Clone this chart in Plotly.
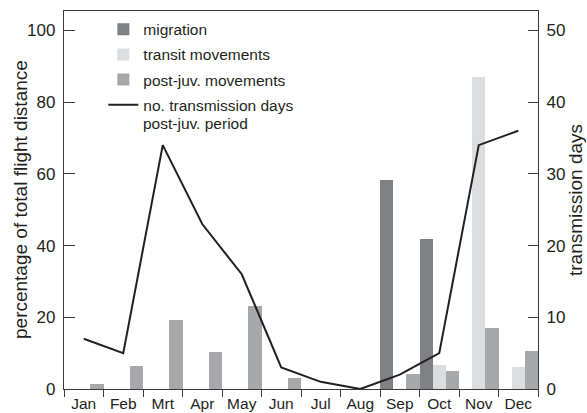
import plotly.graph_objects as go

months = ["Jan", "Feb", "Mrt", "Apr", "May", "Jun", "Jul", "Aug", "Sep", "Oct", "Nov", "Dec"]
migration = [0, 0, 0, 0, 0, 0, 0, 0, 58.3, 41.8, 0, 0]
transit = [0, 0, 0, 0, 0, 0, 0, 0, 0, 6.8, 87.1, 6.0]
postjuv = [1.5, 6.4, 19.2, 10.4, 23.2, 3.2, 0, 0, 4.1, 5.0, 16.9, 10.6]
trans_days = [7, 5, 34, 23, 16, 3, 1, 0, 2, 5, 34, 36]

left_ticks = [0, 20, 40, 60, 80, 100]
right_ticks = [0, 10, 20, 30, 40, 50]

FONT = "Liberation Sans, Arial, Helvetica, sans-serif"
INK = "#231f20"
AX = "#3a3a3c"

fig = go.Figure()
fig.add_trace(go.Bar(x=months, y=migration, name="migration",
                     marker=dict(color="#808184", line=dict(width=0)), legendgroup="a"))
fig.add_trace(go.Bar(x=months, y=transit, name="transit movements",
                     marker=dict(color="#dcdddf", line=dict(width=0)), legendgroup="b"))
fig.add_trace(go.Bar(x=months, y=postjuv, name="post-juv. movements",
                     marker=dict(color="#a7a8ab", line=dict(width=0)), legendgroup="c"))
fig.add_trace(go.Scatter(x=months, y=trans_days, yaxis="y2", mode="lines",
                         name="no. transmission days",
                         line=dict(color=INK, width=2), legendgroup="d"))

fig.update_layout(
    width=587, height=413,
    margin=dict(l=64, r=49, t=11, b=24, autoexpand=False),
    paper_bgcolor="white", plot_bgcolor="white",
    font=dict(family=FONT, size=16, color=INK),
    barmode="group", bargap=0, bargroupgap=0,
    showlegend=True,
    legend=dict(x=0.083, y=0.9956, xanchor="left", yanchor="top",
                bgcolor="rgba(0,0,0,0)", font=dict(size=15.5, color=INK),
                tracegroupgap=2, valign="middle", traceorder="grouped"),
    annotations=[
        dict(text="post-juv. period", xref="paper", yref="paper",
             x=(142 - 64) / 474, y=(389 - 123) / 378, xanchor="left", yanchor="middle",
             showarrow=False, borderpad=0, font=dict(size=15.5, color=INK, family=FONT)),
        dict(text="percentage of total flight distance", xref="paper", yref="paper",
             x=(20 - 64) / 474, y=0.5, xanchor="center", yanchor="middle", textangle=-90,
             showarrow=False, font=dict(size=19, color=INK, family=FONT)),
    ],
    xaxis=dict(type="category", categoryorder="array", categoryarray=months,
               range=[-0.5, 11.5], showgrid=False, zeroline=False, automargin=False,
               showline=True, linecolor=AX, linewidth=1.3, mirror=True,
               ticks="outside", tickson="boundaries", ticklen=7, tickwidth=1.2,
               tickangle=0, tickcolor=AX, tickfont=dict(size=15.5, color=INK), fixedrange=True),
    yaxis=dict(range=[0, 105.4], tickvals=left_ticks, showgrid=False, zeroline=False,
               showline=True, linecolor=AX, linewidth=1.3, automargin=False,
               ticks="inside", ticklen=11, tickwidth=1.2, tickcolor=AX,
               tickfont=dict(size=17, color=INK), ticklabelstandoff=4),
    yaxis2=dict(range=[0, 52.7], tickvals=right_ticks, overlaying="y", side="right",
                showgrid=False, zeroline=False, showline=True, linecolor=AX, linewidth=1.3,
                automargin=False,
                ticks="inside", ticklen=10, tickwidth=1.2, tickcolor=AX,
                tickfont=dict(size=17, color=INK), ticklabelstandoff=4,
                title=dict(text="transmission days", font=dict(size=19, color=INK), standoff=2)),
)

fig.write_html("out.html", config={"displayModeBar": False},
               post_script="document.body.style.margin='0';document.body.style.overflow='hidden';")
